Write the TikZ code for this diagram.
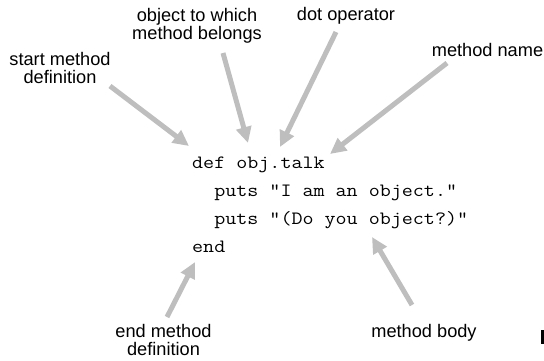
\documentclass[tikz,border=0pt]{standalone}
\usepackage{fontspec}
\setmainfont{Liberation Sans}
\newfontfamily\codefont{Latin Modern Mono}[FakeStretch=1.14]
\usetikzlibrary{arrows.meta}
\definecolor{arrowgray}{HTML}{BEBEBE}
\tikzset{
  lbl/.style={font=\fontsize{18.2bp}{17.6bp}\selectfont, align=center, anchor=base, inner sep=0pt},
  code/.style={font=\codefont\fontsize{18.8bp}{22bp}\selectfont, anchor=base west, inner sep=0pt},
  ptr/.style={draw=arrowgray, line width=5bp, -{Triangle[length=16bp,width=15bp]}, color=arrowgray}
}
\begin{document}
\begin{tikzpicture}[x=1bp,y=-1bp]
\useasboundingbox (0,0) rectangle (544,360);
% labels (base = baseline of last line)
\node[lbl] (start) at (60,83.3) {start method\\definition};
\node[lbl] (obj) at (197,39.3) {object to which\\method belongs};
\node[lbl] (dot) at (346,20.7) {dot operator};
\node[lbl] (mname) at (487.5,56) {method name};
\node[lbl] (endl) at (163.5,355.4) {end method\\definition};
\node[lbl] (body) at (424,337) {method body};
% code
\node[code] (l1) at (192,168) {def obj.talk};
\node[code] (l2) at (192,196) {\ \ puts "I am an object."};
\node[code] (l3) at (192,224) {\ \ puts "(Do you object?)"};
\node[code] (l4) at (192,252) {end};
% arrow endpoints
\coordinate (t1) at (110,86);  \coordinate (h1) at (189,146);
\coordinate (t2) at (223,53);  \coordinate (h2) at (248,143);
\coordinate (t3) at (336,32);  \coordinate (h3) at (280,147);
\coordinate (t4) at (447,63);  \coordinate (h4) at (330,154);
\coordinate (t5) at (167,317); \coordinate (h5) at (195,262);
\coordinate (t6) at (412,305); \coordinate (h6) at (372,237);
\draw[ptr] (t1) -- (h1);
\draw[ptr] (t2) -- (h2);
\draw[ptr] (t3) -- (h3);
\draw[ptr] (t4) -- (h4);
\draw[ptr] (t5) -- (h5);
\draw[ptr] (t6) -- (h6);
% cropped mark at right edge
\fill[black] (541,330) rectangle (544,344);
\end{tikzpicture}
\end{document}
